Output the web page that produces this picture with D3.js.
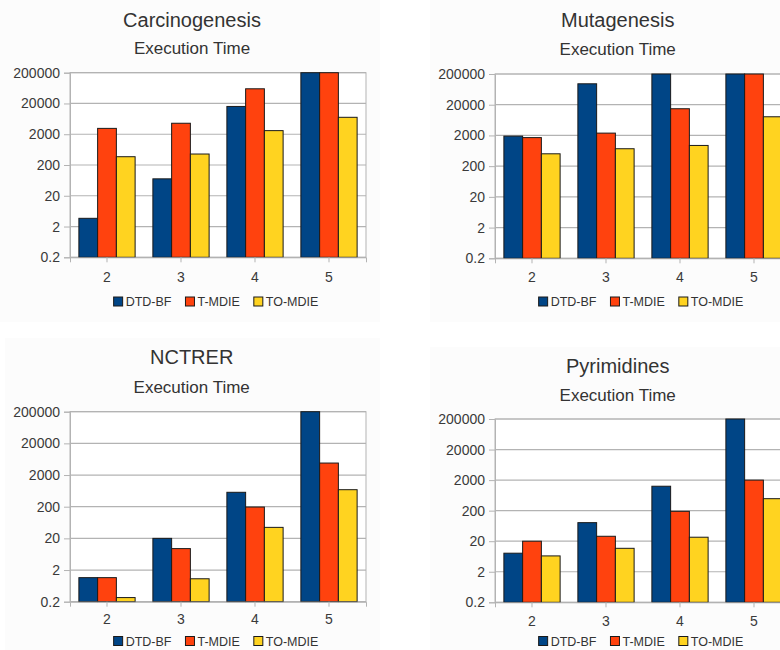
<!DOCTYPE html>
<html>
<head>
<meta charset="utf-8">
<script src="https://cdn.jsdelivr.net/npm/d3@7"></script>
<style>
  html, body { margin: 0; padding: 0; background: #ffffff; }
  svg { display: block; font-family: "Liberation Sans", Arial, sans-serif; }
</style>
</head>
<body>
<svg id="chart" width="780" height="650"></svg>
<script>
// ---- data ----
const categories = ["2", "3", "4", "5"];
const seriesNames = ["DTD-BF", "T-MDIE", "TO-MDIE"];
const yTickValues = [0.2, 2, 20, 200, 2000, 20000, 200000];
const yTickLabels = ["0.2", "2", "20", "200", "2000", "20000", "200000"];
const chartTitles = ["Carcinogenesis", "Mutagenesis", "NCTRER", "Pyrimidines"];
const subtitle = "Execution Time";

const carcDTDBF  = [3.7, 71, 16000, 200000];
const carcTMDIE  = [3100, 4550, 60000, 200000];
const carcTOMDIE = [372, 455, 2620, 7100];

const mutaDTDBF  = [1900, 96000, 200000, 200000];
const mutaTMDIE  = [1700, 2380, 14800, 200000];
const mutaTOMDIE = [505, 738, 944, 8100];

const nctrDTDBF  = [1.15, 20, 570, 200000];
const nctrTMDIE  = [1.15, 9.5, 195, 4780];
const nctrTOMDIE = [0.27, 1.06, 44.5, 689];

const pyriDTDBF  = [8.1, 81, 1260, 200000];
const pyriTMDIE  = [20, 29, 190, 2000];
const pyriTOMDIE = [6.6, 11.7, 27, 493];

const datasets = [
  [carcDTDBF, carcTMDIE, carcTOMDIE],
  [mutaDTDBF, mutaTMDIE, mutaTOMDIE],
  [nctrDTDBF, nctrTMDIE, nctrTOMDIE],
  [pyriDTDBF, pyriTMDIE, pyriTOMDIE]
];

// ---- layout / style ----
const colors = ["#004586", "#ff420e", "#ffd320"];
const layouts = [
  { bg: [0, 0, 380, 322],   x0: 70,  x1: 366, y0: 72.7,  y1: 257.3, titleX: 192,   titleY: 27,    subY: 54,    xLabY: 282,   legY: 306 },
  { bg: [430, 0, 350, 322], x0: 495, x1: 791, y0: 74,    y1: 258.3, titleX: 617.7, titleY: 27.3,  subY: 54.7,  xLabY: 281.7, legY: 306 },
  { bg: [5, 338, 375, 312], x0: 70,  x1: 366, y0: 411.7, y1: 601.7, titleX: 191.7, titleY: 364,   subY: 393.3, xLabY: 624.3, legY: 645.5 },
  { bg: [430, 347, 350, 303], x0: 495, x1: 791, y0: 419, y1: 602.3, titleX: 617.7, titleY: 373.3, subY: 400.7, xLabY: 626,   legY: 645.5 }
];

const svg = d3.select("#chart");

layouts.forEach((L, i) => {
  const g = svg.append("g");
  const data = datasets[i];

  g.append("rect")
    .attr("x", L.bg[0]).attr("y", L.bg[1]).attr("width", L.bg[2]).attr("height", L.bg[3])
    .attr("fill", "#fcfcfc");

  const y = d3.scaleLog().domain([0.2, 200000]).range([L.y1, L.y0]);
  const x = d3.scaleBand().domain(categories).range([L.x0, L.x1]).paddingInner(0.24).paddingOuter(0.12);
  const xs = d3.scaleBand().domain(seriesNames).range([0, x.bandwidth()]).padding(0);

  // plot area
  g.append("rect")
    .attr("x", L.x0).attr("y", L.y0).attr("width", L.x1 - L.x0).attr("height", L.y1 - L.y0)
    .attr("fill", "#ffffff").attr("stroke", "#b3b3b3").attr("stroke-width", 1);

  // gridlines
  g.append("g").selectAll("line").data(yTickValues).join("line")
    .attr("x1", L.x0).attr("x2", L.x1)
    .attr("y1", d => y(d)).attr("y2", d => y(d))
    .attr("stroke", "#b3b3b3").attr("stroke-width", 1.2);

  // y axis
  const yAxis = d3.axisLeft(y).tickValues(yTickValues)
    .tickFormat((d, k) => yTickLabels[k]).tickSize(6).tickPadding(4);
  const ya = g.append("g").attr("transform", `translate(${L.x0},0)`).call(yAxis);
  ya.select(".domain").attr("stroke", "#b3b3b3");
  ya.selectAll(".tick line").attr("stroke", "#b3b3b3");
  ya.selectAll(".tick text").attr("fill", "#3a3a3a").style("font-size", "14px")
    .style("font-family", "'Liberation Sans', Arial, sans-serif");

  // bars
  const groups = g.append("g").selectAll("g").data(categories).join("g")
    .attr("transform", d => `translate(${x(d)},0)`);
  groups.selectAll("rect")
    .data((c, ci) => seriesNames.map((s, si) => ({ s, si, v: data[si][ci] })))
    .join("rect")
    .attr("x", d => xs(d.s))
    .attr("width", xs.bandwidth())
    .attr("y", d => y(d.v))
    .attr("height", d => L.y1 - y(d.v))
    .attr("fill", d => colors[d.si])
    .attr("stroke", "#1a1a1a").attr("stroke-width", 1);

  // x axis
  const xAxis = d3.axisBottom(x).tickSize(5).tickPadding(8);
  const xa = g.append("g").attr("transform", `translate(0,${L.y1})`).call(xAxis);
  xa.select(".domain").attr("stroke", "#b3b3b3");
  xa.selectAll(".tick line").attr("stroke", "#b3b3b3");
  xa.selectAll(".tick text").attr("fill", "#3a3a3a").style("font-size", "14px")
    .style("font-family", "'Liberation Sans', Arial, sans-serif")
    .attr("dy", null).attr("y", L.xLabY - L.y1);

  // titles
  g.append("text").attr("x", L.titleX).attr("y", L.titleY).attr("text-anchor", "middle")
    .attr("fill", "#333").style("font-size", "20px").text(chartTitles[i]);
  g.append("text").attr("x", L.titleX).attr("y", L.subY).attr("text-anchor", "middle")
    .attr("fill", "#333").style("font-size", "17px").text(subtitle);

  // legend
  const legend = g.append("g");
  let cx = 0;
  const items = [];
  seriesNames.forEach((s, si) => {
    const it = legend.append("g");
    it.append("rect").attr("x", 0).attr("y", -9).attr("width", 9).attr("height", 9)
      .attr("fill", colors[si]).attr("stroke", "#1a1a1a").attr("stroke-width", 1);
    const t = it.append("text").attr("x", 12).attr("y", 0).attr("fill", "#333")
      .style("font-size", "12.5px").text(s);
    items.push({ it, w: 12 + t.node().getComputedTextLength() });
  });
  const gap = 14;
  items.forEach((o, k) => {
    o.it.attr("transform", `translate(${cx},0)`);
    cx += o.w + (k < items.length - 1 ? gap : 0);
  });
  const center = (L.x0 + L.x1) / 2 - 2;
  legend.attr("transform", `translate(${center - cx / 2},${L.legY})`);
});
</script>
</body>
</html>
